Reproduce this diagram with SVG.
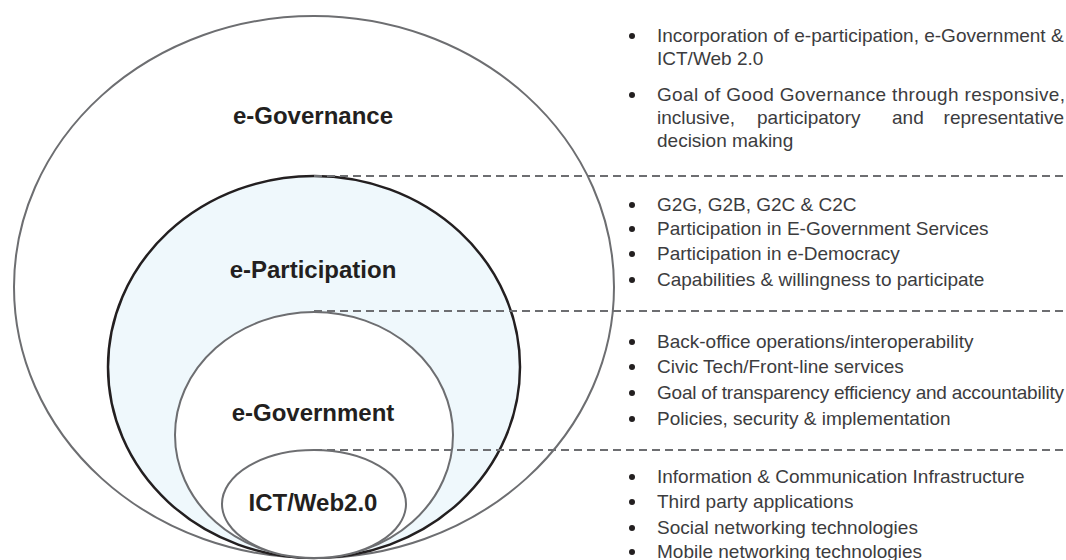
<svg xmlns="http://www.w3.org/2000/svg" width="1066" height="560" viewBox="0 0 1066 560">
<style>
.ring{stroke:#6d6e71;stroke-width:2;fill:#ffffff}
.part{stroke:#231f20;stroke-width:2.5;fill:#eff8fc}
.lbl{font-family:"Liberation Sans",Arial,sans-serif;font-weight:bold;font-size:24px;fill:#231f20;text-anchor:middle}
.txt{font-family:"Liberation Sans",Arial,sans-serif;font-size:19px;fill:#3c3c3e}
.dash{stroke:#6d6e71;stroke-width:2;stroke-dasharray:8 5;fill:none}
.bul{fill:#231f20}
</style>
<rect width="1066" height="560" fill="#ffffff"/>
<g id="node-egovernance">
<ellipse class="ring" cx="314" cy="287" rx="300" ry="271"/>
</g>
<g id="node-eparticipation">
<ellipse class="part" cx="314" cy="367" rx="206" ry="191"/>
</g>
<g id="node-egovernment">
<ellipse class="ring" cx="314" cy="435" rx="139" ry="123"/>
</g>
<g id="node-ict">
<ellipse class="ring" cx="314" cy="504" rx="92" ry="54"/>
</g>
<g id="connectors">
<line class="dash" x1="314" y1="176" x2="1066" y2="176"/>
<line class="dash" x1="314" y1="311" x2="1066" y2="311"/>
<line class="dash" x1="314" y1="450" x2="1066" y2="450"/>
</g>
<g id="labels">
<text class="lbl" x="313" y="124">e-Governance</text>
<text class="lbl" x="313" y="278">e-Participation</text>
<text class="lbl" x="313" y="421">e-Government</text>
<text class="lbl" x="313" y="511">ICT/Web2.0</text>
</g>
<g id="list-egovernance">
<circle class="bul" cx="632" cy="36" r="3"/>
<text class="txt" x="657" y="42">Incorporation of e-participation, e-Government &amp;</text>
<text class="txt" x="657" y="65">ICT/Web 2.0</text>
<circle class="bul" cx="632" cy="95" r="3"/>
<text class="txt" x="657" y="101" textLength="408" lengthAdjust="spacing">Goal of Good Governance through responsive,</text>
<text class="txt" x="657" y="124">inclusive,</text>
<text class="txt" x="757" y="124">participatory</text>
<text class="txt" x="892" y="124">and</text>
<text class="txt" x="1064" y="124" text-anchor="end">representative</text>
<text class="txt" x="657" y="147">decision making</text>
</g>
<g id="list-eparticipation">
<circle class="bul" cx="632" cy="205" r="3"/>
<text class="txt" x="657" y="211">G2G, G2B, G2C &amp; C2C</text>
<circle class="bul" cx="632" cy="229" r="3"/>
<text class="txt" x="657" y="235">Participation in E-Government Services</text>
<circle class="bul" cx="632" cy="254" r="3"/>
<text class="txt" x="657" y="260">Participation in e-Democracy</text>
<circle class="bul" cx="632" cy="280" r="3"/>
<text class="txt" x="657" y="286">Capabilities &amp; willingness to participate</text>
</g>
<g id="list-egovernment">
<circle class="bul" cx="632" cy="342" r="3"/>
<text class="txt" x="657" y="348">Back-office operations/interoperability</text>
<circle class="bul" cx="632" cy="367" r="3"/>
<text class="txt" x="657" y="373">Civic Tech/Front-line services</text>
<circle class="bul" cx="632" cy="393" r="3"/>
<text class="txt" x="657" y="399" textLength="407" lengthAdjust="spacing">Goal of transparency efficiency and accountability</text>
<circle class="bul" cx="632" cy="419" r="3"/>
<text class="txt" x="657" y="425">Policies, security &amp; implementation</text>
</g>
<g id="list-ict">
<circle class="bul" cx="632" cy="477" r="3"/>
<text class="txt" x="657" y="483">Information &amp; Communication Infrastructure</text>
<circle class="bul" cx="632" cy="502" r="3"/>
<text class="txt" x="657" y="508">Third party applications</text>
<circle class="bul" cx="632" cy="528" r="3"/>
<text class="txt" x="657" y="534">Social networking technologies</text>
<circle class="bul" cx="632" cy="552" r="3"/>
<text class="txt" x="657" y="558">Mobile networking technologies</text>
</g>
</svg>
